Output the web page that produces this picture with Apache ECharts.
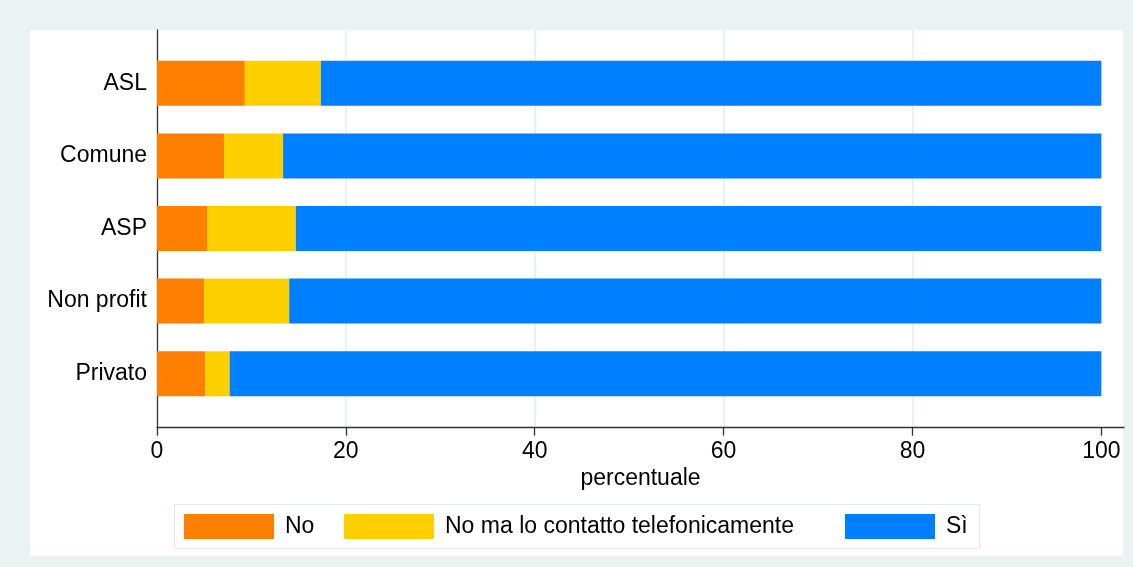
<!DOCTYPE html>
<html>
<head>
<meta charset="utf-8">
<script src="https://cdn.jsdelivr.net/npm/echarts@6/dist/echarts.min.js"></script>
<style>
html,body{margin:0;padding:0;background:#eaf2f3;}
#chart{width:1133px;height:567px;}
</style>
</head>
<body>
<div id="chart"></div>
<script>
var categories = ['ASL', 'Comune', 'ASP', 'Non profit', 'Privato'];
var seriesNames = ['No', 'No ma lo contatto telefonicamente', 'Sì'];
var valNo = [9.3, 7.1, 5.3, 5.0, 5.1];
var valTel = [8.05, 6.25, 9.4, 9.0, 2.6];
var valSi = [82.65, 86.65, 85.3, 86.0, 92.3];
var xTicks = [0, 20, 40, 60, 80, 100];
var colors = ['#ff7f00', '#ffd000', '#0080ff'];
var legendLefts = [184, 344, 845];

var FONT = "'Liberation Sans', Arial, Helvetica, sans-serif";
var chart = echarts.init(document.getElementById('chart'), null, {renderer: 'canvas'});

function bar(name, data, color) {
  return {
    name: name, type: 'bar', stack: 'tot', data: data,
    xAxisIndex: 1, yAxisIndex: 1,
    barWidth: 45,
    itemStyle: {color: color},
    emphasis: {disabled: true},
    animation: false
  };
}

var legends = seriesNames.map(function (n, i) {
  return {
    data: [n],
    left: legendLefts[i], top: 514,
    orient: 'horizontal',
    itemWidth: 90, itemHeight: 25,
    padding: 0,
    selectedMode: false,
    icon: 'rect',
    textStyle: {fontSize: 23, color: '#000', fontFamily: FONT, padding: [0, 0, 0, 6]}
  };
});

var option = {
  backgroundColor: '#eaf2f3',
  animation: false,
  color: colors,
  textStyle: {fontFamily: FONT},
  graphic: {elements: [
    {
      type: 'rect', z: -100, silent: true,
      shape: {x: 30, y: 30, width: 1093, height: 526},
      style: {fill: '#ffffff'}
    },
    {
      type: 'rect', z: -90, silent: true,
      shape: {x: 174.5, y: 504.5, width: 805, height: 44},
      style: {fill: '#ffffff', stroke: '#dfe9ec', lineWidth: 1}
    }
  ]},
  grid: [
    {left: 157, right: 9, top: 30, bottom: 139.3, containLabel: false},
    {left: 157, right: 9, top: 47, bottom: 157, containLabel: false}
  ],
  xAxis: [
    {
      gridIndex: 0, type: 'value', min: 0, max: 102.4, interval: 20,
      axisLine: {show: true, lineStyle: {color: '#333', width: 1.3}},
      axisTick: {show: true, length: 8, lineStyle: {color: '#333', width: 1.3}, customValues: xTicks},
      axisLabel: {show: true, fontSize: 23, color: '#000', fontFamily: FONT, margin: 12, customValues: xTicks},
      splitLine: {show: true, showMinLine: false, showMaxLine: false, lineStyle: {color: '#e4eef0', width: 1.5}},
      name: 'percentuale', nameLocation: 'middle', nameGap: 38,
      nameTextStyle: {fontSize: 23, color: '#000', fontFamily: FONT}
    },
    {
      gridIndex: 1, type: 'value', min: 0, max: 102.4, show: false
    }
  ],
  yAxis: [
    {
      gridIndex: 0, type: 'value', min: 0, max: 1,
      axisLine: {show: true, onZero: false, lineStyle: {color: '#333', width: 1.3}},
      axisTick: {show: false}, axisLabel: {show: false}, splitLine: {show: false}
    },
    {
      gridIndex: 1, type: 'category', data: categories, inverse: true,
      axisLine: {show: false}, axisTick: {show: false}, splitLine: {show: false},
      axisLabel: {fontSize: 23, color: '#000', fontFamily: FONT, margin: 10}
    }
  ],
  legend: legends,
  series: [
    bar(seriesNames[0], valNo, colors[0]),
    bar(seriesNames[1], valTel, colors[1]),
    bar(seriesNames[2], valSi, colors[2])
  ]
};
chart.setOption(option);
</script>
</body>
</html>
